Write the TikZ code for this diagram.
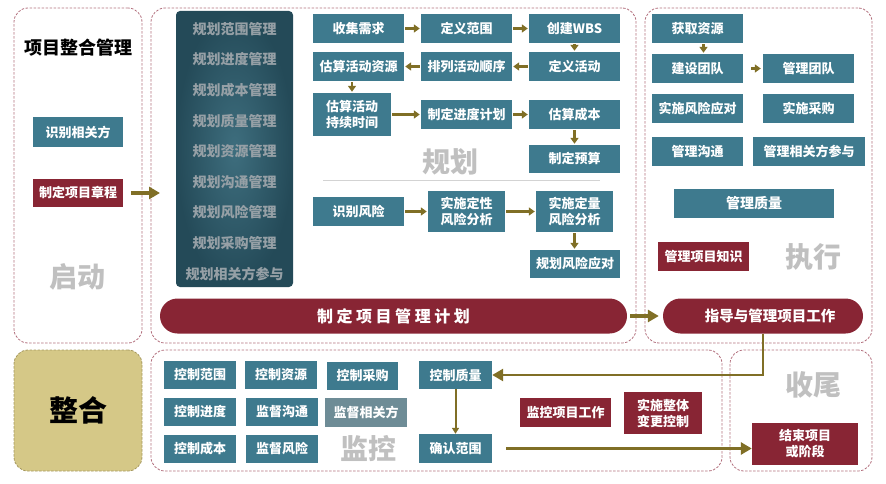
\documentclass[tikz,border=0pt]{standalone}
\usepackage{fontspec}
\setmainfont{Noto Sans CJK SC}
\usepackage{tikz}
\usetikzlibrary{arrows.meta,positioning}
\definecolor{tealbox}{RGB}{62,122,142}
\definecolor{greyteal}{RGB}{110,140,150}
\definecolor{wine}{RGB}{136,37,52}
\definecolor{olive}{RGB}{128,111,38}
\definecolor{zoneline}{RGB}{178,112,126}
\definecolor{khaki}{RGB}{213,200,135}
\definecolor{khakiline}{RGB}{165,152,95}
\definecolor{ghost}{RGB}{192,192,192}
\definecolor{paneldark}{RGB}{36,74,88}
\definecolor{panellight}{RGB}{62,110,126}
\definecolor{paneltxt}{RGB}{150,160,166}

\tikzset{
  zone/.style={draw=zoneline, line width=0.8pt, dash pattern=on 2.5pt off 1.5pt,
    rounded corners=14pt, inner sep=0pt},
  bluebox/.style={fill=tealbox, text=white, inner sep=0pt, align=center,
    font=\fontsize{13}{16}\selectfont\bfseries, minimum width=91pt, minimum height=29pt},
  redbox/.style={bluebox, fill=wine},
  pill/.style={fill=wine, text=white, inner sep=0pt, rounded corners=17.5pt,
    minimum height=35pt},
  ghostword/.style={text=ghost, font=\fontsize{28}{30}\selectfont\bfseries},
  paneltext/.style={text=paneltxt, font=\fontsize{14}{16}\selectfont\bfseries},
  flow/.style={draw=olive, line width=2.6pt, -{Triangle[length=6pt,width=8pt]},
    shorten <=1pt, shorten >=1pt},
  bigflow/.style={draw=olive, line width=3.2pt, -{Triangle[length=11pt,width=12pt]}}
}

\begin{document}
\begin{tikzpicture}[x=1pt,y=-1pt]
\useasboundingbox (0,0) rectangle (886,484);

% zones
\node[zone, minimum width=128pt, minimum height=335pt] (zqd) at (78,175.5) {};
\node[zone, minimum width=485pt, minimum height=335pt] (zgh) at (393.5,175.5) {};
\node[zone, minimum width=227pt, minimum height=335pt] (zzx) at (758.5,175.5) {};
\node[zone, draw=khakiline, fill=khaki, minimum width=128pt, minimum height=121pt] (zzh) at (78,410.5) {};
\node[zone, minimum width=571pt, minimum height=121pt] (zjk) at (436.5,410.5) {};
\node[zone, minimum width=142pt, minimum height=121pt] (zsw) at (801,410.5) {};

% 启动
\node[font=\fontsize{18}{20}\selectfont\bfseries] (title) at (78,48) {项目整合管理};
\node[bluebox, minimum width=90pt, minimum height=30pt] (sbxgf) at (78,132) {识别相关方};
\node[redbox, minimum width=90pt, minimum height=28pt] (zdxmzc) at (78,193) {制定项目章程};
\node[ghostword] (qidong) at (77,277) {启动};
\coordinate (ghin) at (160,193);
\draw[bigflow, shorten <=8pt] (zdxmzc.east) -- (ghin);

% 规划
\node[rounded corners=4pt, inner color=panellight, outer color=paneldark,
      minimum width=117pt, minimum height=276pt] (panel) at (234.5,149) {};
\foreach \t [count=\i from 0] in {规划范围管理,规划进度管理,规划成本管理,规划质量管理,
    规划资源管理,规划沟通管理,规划风险管理,规划采购管理,规划相关方参与}
  \node[paneltext] (pt\i) at (234.5,{29+30.6*\i}) {\t};

\node[bluebox] (sjxq) at (358.5,28.5) {收集需求};
\node[bluebox] (dyfw) at (466.5,28.5) {定义范围};
\node[bluebox] (cjwbs) at (574.5,28.5) {创建WBS};
\node[bluebox] (gshdzy) at (358.5,66.5) {估算活动资源};
\node[bluebox] (plhdsx) at (466.5,66.5) {排列活动顺序};
\node[bluebox] (dyhd) at (574.5,66.5) {定义活动};
\node[bluebox, minimum width=78pt, minimum height=43pt] (gshdcxsj) at (352,114.5) {估算活动\\持续时间};
\node[bluebox] (zdjdjh) at (466.5,114.5) {制定进度计划};
\node[bluebox] (gscb) at (574.5,114.5) {估算成本};
\node[bluebox, minimum height=28pt] (zdys) at (574.5,159) {制定预算};
\node[ghostword] (guihua) at (450,162) {规划};
\draw[ghost!70, line width=0.6pt] (323,180) -- (600,180);

\draw[flow] (sjxq) -- (dyfw);
\draw[flow] (dyfw) -- (cjwbs);
\draw[flow] (cjwbs) -- (dyhd);
\draw[flow] (dyhd) -- (plhdsx);
\draw[flow] (plhdsx) -- (gshdzy);
\draw[flow] (gshdcxsj.north |- gshdzy.south) -- (gshdcxsj.north);
\draw[flow] (gshdcxsj.east |- zdjdjh.west) -- (zdjdjh.west);
\draw[flow] (zdjdjh) -- (gscb);
\draw[flow] (gscb) -- (zdys);

\node[bluebox] (sbfx) at (358.5,211.5) {识别风险};
\node[bluebox, minimum width=77pt, minimum height=41pt] (sssxfx) at (466.5,211.5) {实施定性\\风险分析};
\node[bluebox, minimum width=77pt, minimum height=41pt] (ssdlfx) at (574.5,211.5) {实施定量\\风险分析};
\node[bluebox, minimum width=90pt, minimum height=28pt] (ghfxyd) at (575,264) {规划风险应对};
\draw[flow] (sbfx) -- (sssxfx);
\draw[flow] (sssxfx) -- (ssdlfx);
\draw[flow] (ssdlfx.south) -- (ssdlfx.south |- ghfxyd.north);

\node[pill, minimum width=467pt, font=\fontsize{16}{18}\selectfont\bfseries\addfontfeatures{LetterSpace=22}] (zdxmgljh) at (393.5,316) {制定项目管理计划};

% 执行
\node[bluebox] (hqzy) at (697.5,28.5) {获取资源};
\node[bluebox] (jstd) at (697.5,68.5) {建设团队};
\node[bluebox] (gltd) at (808.5,68.5) {管理团队};
\node[bluebox] (ssfxyd) at (697.5,108.5) {实施风险应对};
\node[bluebox] (sscg) at (808.5,108.5) {实施采购};
\node[bluebox] (glgt) at (697.5,151.5) {管理沟通};
\node[bluebox, minimum width=112pt] (glxgfcy) at (809,151.5) {管理相关方参与};
\node[bluebox, minimum width=160pt, font=\fontsize{14}{16}\selectfont\bfseries] (glzl) at (754,203.5) {管理质量};
\node[redbox] (glxmzs) at (703.5,256.5) {管理项目知识};
\node[ghostword] (zhixing) at (813,257) {执行};
\draw[flow] ([xshift=6pt]hqzy.south) -- ([xshift=6pt]jstd.north);
\draw[flow, shorten <=8pt, shorten >=2pt] (jstd) -- (gltd);

\node[pill, minimum width=200pt, font=\fontsize{14.5}{17}\selectfont\bfseries] (zdyglxmgz) at (763,316) {\hspace{14pt}指导与管理项目工作};
\draw[bigflow, shorten <=3pt, shorten >=4pt] (zdxmgljh) -- (zdyglxmgz);

% 整合
\node[font=\fontsize{29}{31}\selectfont\bfseries] (zhenghe) at (78,410) {整合};

% 监控
\node[bluebox, minimum width=72pt, minimum height=28pt] (kzfw) at (200,375) {控制范围};
\node[bluebox, minimum width=72pt, minimum height=28pt] (kzzy) at (281,375) {控制资源};
\node[bluebox, minimum width=71pt, minimum height=28pt] (kzcg) at (362.5,375.5) {控制采购};
\node[bluebox, minimum width=72pt, minimum height=28pt] (kzjd) at (200,412) {控制进度};
\node[bluebox, minimum width=72pt, minimum height=28pt] (jdgt) at (282,412) {监督沟通};
\node[bluebox, fill=greyteal, minimum width=82pt] (jdxgf) at (366,412.5) {监督相关方};
\node[bluebox, minimum width=72pt, minimum height=28pt] (kzcb) at (200,449) {控制成本};
\node[bluebox, minimum width=72pt, minimum height=28pt] (jdfx) at (282,449) {监督风险};
\node[ghostword] (jiankong) at (368,449) {监控};
\node[bluebox, minimum width=73pt, minimum height=28pt] (kzzl) at (455.5,375) {控制质量};
\node[bluebox, minimum width=73pt] (qrfw) at (455.5,448.5) {确认范围};
\node[redbox] (jkxmgz) at (565.5,412.5) {监控项目工作};
\node[redbox, minimum width=78pt, minimum height=42pt] (sszbggkz) at (663,413) {实施整体\\变更控制};
\draw[draw=olive, line width=2pt, -{Triangle[length=6pt,width=7pt]}] (kzzl) -- (qrfw);
\draw[bigflow, line width=2.6pt] (zdyglxmgz.south) |- (kzzl.east);

% 收尾
\node[ghostword] (shouwei) at (813,385) {收尾};
\node[redbox, minimum width=106pt, minimum height=42pt] (jsxmhjd) at (805,444) {结束项目\\或阶段};
\draw[bigflow, shorten <=14pt] (qrfw.east) -- (qrfw.east -| jsxmhjd.west);

\end{tikzpicture}
\end{document}
